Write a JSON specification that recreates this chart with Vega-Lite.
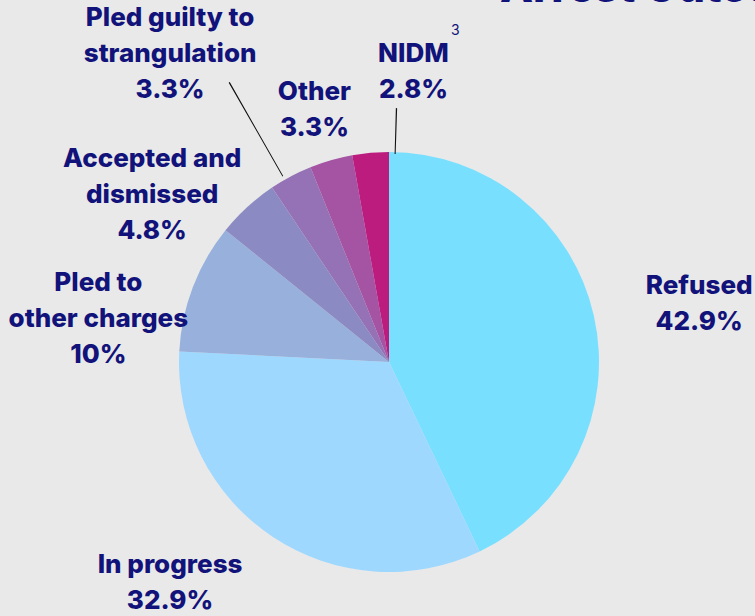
{
  "$schema": "https://vega.github.io/schema/vega-lite/v6.json",
  "width": 732,
  "height": 508,
  "autosize": {"type": "none"},
  "padding": {"left": 23, "top": 108, "right": 0, "bottom": 0},
  "background": "#E9E9E9",
  "title": {"text": "Arrest Outcomes", "anchor": "start", "frame": "group", "dx": 477, "dy": 83, "offset": 0, "baseline": "alphabetic", "fontSize": 43, "font": "Inter", "fontWeight": 800, "color": "#12137A"},
  "config": {"view": {"stroke": null}},
  "data": {
    "values": [
      {"n": 1, "cat": "Refused", "pct": 42.9, "label": ["Refused", "42.9%"]},
      {"n": 2, "cat": "In progress", "pct": 32.9, "label": ["In progress", "32.9%"]},
      {"n": 3, "cat": "Pled to other charges", "pct": 10, "label": ["Pled to", "other charges", "10%"]},
      {"n": 4, "cat": "Accepted and dismissed", "pct": 4.8, "label": ["Accepted and", "dismissed", "4.8%"]},
      {"n": 5, "cat": "Pled guilty to strangulation", "pct": 3.3, "label": ["Pled guilty to", "strangulation", "3.3%"]},
      {"n": 6, "cat": "Other", "pct": 3.3, "label": ["Other", "3.3%"]},
      {"n": 7, "cat": "NIDM", "pct": 2.8, "label": ["NIDM", "2.8%"]}
    ]
  },
  "layer": [
    {
      "mark": {"type": "arc", "outerRadius": 210},
      "encoding": {
        "theta": {"field": "pct", "type": "quantitative", "stack": true},
        "order": {"field": "n", "type": "quantitative"},
        "color": {"field": "cat", "type": "nominal", "legend": null,
          "scale": {"domain": ["Refused", "In progress", "Pled to other charges", "Accepted and dismissed", "Pled guilty to strangulation", "Other", "NIDM"],
                    "range": ["#78DFFF", "#9ED8FF", "#97B1DC", "#8B8AC2", "#9571B5", "#A553A3", "#BB1C7E"]}}
      }
    },
    {
      "data": {"values": [{}]},
      "mark": {"type": "arc", "theta": 5.762, "theta2": 5.766, "innerRadius": 214, "outerRadius": 322, "color": "#111111"},
      "encoding": {}
    },
    {
      "data": {"values": [{}]},
      "mark": {"type": "arc", "theta": 0.027, "theta2": 0.032, "innerRadius": 208, "outerRadius": 254, "color": "#111111"},
      "encoding": {}
    },
    {
      "mark": {"type": "text", "radius": 315, "dx": 3, "dy": -6, "font": "Inter", "fontWeight": 800, "fontSize": 26, "lineHeight": 36, "color": "#12137A", "align": "center", "baseline": "middle"},
      "encoding": {
        "theta": {"field": "pct", "type": "quantitative", "stack": true},
        "order": {"field": "n", "type": "quantitative"},
        "detail": {"field": "cat", "type": "nominal"},
        "text": {"condition": {"test": "datum.cat === 'Refused'", "field": "label"}, "value": ""}
      }
    },
    {
      "mark": {"type": "text", "radius": 312, "dx": -46, "dy": -57, "font": "Inter", "fontWeight": 800, "fontSize": 26, "lineHeight": 36, "color": "#12137A", "align": "center", "baseline": "middle"},
      "encoding": {
        "theta": {"field": "pct", "type": "quantitative", "stack": true},
        "order": {"field": "n", "type": "quantitative"},
        "detail": {"field": "cat", "type": "nominal"},
        "text": {"condition": {"test": "datum.cat === 'In progress'", "field": "label"}, "value": ""}
      }
    },
    {
      "mark": {"type": "text", "radius": 294, "dx": -16, "dy": 26, "font": "Inter", "fontWeight": 800, "fontSize": 26, "lineHeight": 36, "color": "#12137A", "align": "center", "baseline": "middle"},
      "encoding": {
        "theta": {"field": "pct", "type": "quantitative", "stack": true},
        "order": {"field": "n", "type": "quantitative"},
        "detail": {"field": "cat", "type": "nominal"},
        "text": {"condition": {"test": "datum.cat === 'Pled to other charges'", "field": "label"}, "value": ""}
      }
    },
    {
      "mark": {"type": "text", "radius": 290, "dx": -41, "dy": 11, "font": "Inter", "fontWeight": 800, "fontSize": 26, "lineHeight": 36, "color": "#12137A", "align": "center", "baseline": "middle"},
      "encoding": {
        "theta": {"field": "pct", "type": "quantitative", "stack": true},
        "order": {"field": "n", "type": "quantitative"},
        "detail": {"field": "cat", "type": "nominal"},
        "text": {"condition": {"test": "datum.cat === 'Accepted and dismissed'", "field": "label"}, "value": ""}
      }
    },
    {
      "mark": {"type": "text", "radius": 378, "dx": -42, "dy": -10, "font": "Inter", "fontWeight": 800, "fontSize": 26, "lineHeight": 36, "color": "#12137A", "align": "center", "baseline": "middle"},
      "encoding": {
        "theta": {"field": "pct", "type": "quantitative", "stack": true},
        "order": {"field": "n", "type": "quantitative"},
        "detail": {"field": "cat", "type": "nominal"},
        "text": {"condition": {"test": "datum.cat === 'Pled guilty to strangulation'", "field": "label"}, "value": ""}
      }
    },
    {
      "mark": {"type": "text", "radius": 263, "dx": -2, "dy": -17, "font": "Inter", "fontWeight": 800, "fontSize": 26, "lineHeight": 36, "color": "#12137A", "align": "center", "baseline": "middle"},
      "encoding": {
        "theta": {"field": "pct", "type": "quantitative", "stack": true},
        "order": {"field": "n", "type": "quantitative"},
        "detail": {"field": "cat", "type": "nominal"},
        "text": {"condition": {"test": "datum.cat === 'Other'", "field": "label"}, "value": ""}
      }
    },
    {
      "mark": {"type": "text", "radius": 291, "dx": 50, "dy": -18, "font": "Inter", "fontWeight": 800, "fontSize": 26, "lineHeight": 36, "color": "#12137A", "align": "center", "baseline": "middle"},
      "encoding": {
        "theta": {"field": "pct", "type": "quantitative", "stack": true},
        "order": {"field": "n", "type": "quantitative"},
        "detail": {"field": "cat", "type": "nominal"},
        "text": {"condition": {"test": "datum.cat === 'NIDM'", "field": "label"}, "value": ""}
      }
    },
    {
      "mark": {"type": "text", "radius": 291, "dx": 92, "dy": -41, "font": "Inter", "fontSize": 14, "color": "#12137A", "align": "center", "baseline": "middle"},
      "encoding": {
        "theta": {"field": "pct", "type": "quantitative", "stack": true},
        "order": {"field": "n", "type": "quantitative"},
        "detail": {"field": "cat", "type": "nominal"},
        "text": {"condition": {"test": "datum.cat === 'NIDM'", "value": "3"}, "value": ""}
      }
    }
  ]
}
